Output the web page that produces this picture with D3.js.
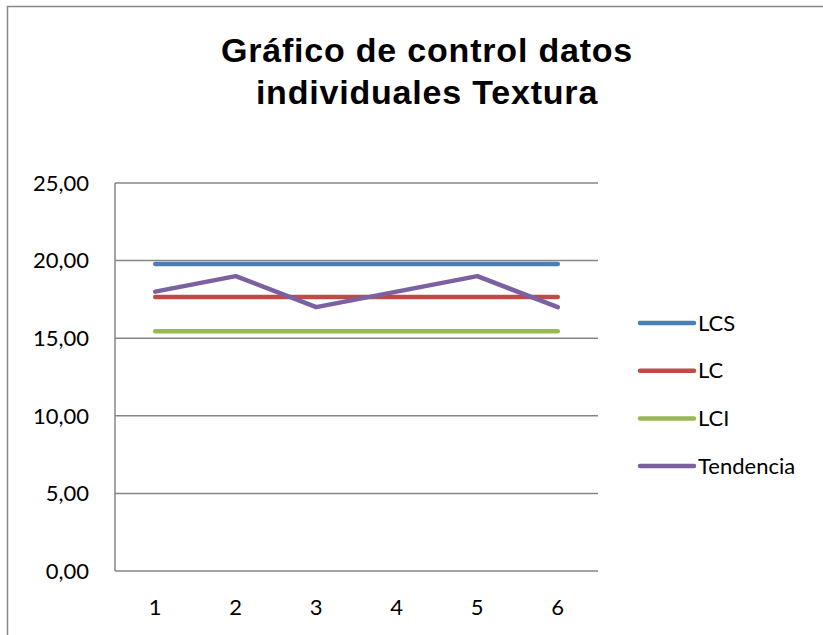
<!DOCTYPE html>
<html>
<head>
<meta charset="utf-8">
<script src="https://cdn.jsdelivr.net/npm/d3@7"></script>
<style>
  body { margin: 0; background: #fff; }
  svg { display: block; }
</style>
</head>
<body>
<svg id="chart"></svg>
<script>
// data
var categories = ["1", "2", "3", "4", "5", "6"];
var seriesNames = ["LCS", "LC", "LCI", "Tendencia"];
var lcs = [19.78, 19.78, 19.78, 19.78, 19.78, 19.78];
var lc = [17.65, 17.65, 17.65, 17.65, 17.65, 17.65];
var lci = [15.45, 15.45, 15.45, 15.45, 15.45, 15.45];
var tendencia = [18, 19, 17, 18, 19, 17];
var yTicks = [0, 5, 10, 15, 20, 25];
var colors = ["#4a7ebb", "#be4b48", "#98b954", "#7d60a0"];

var series = [lcs, lc, lci, tendencia];

var W = 823, H = 635;
var margin = {top: 183, right: 225, bottom: 64, left: 115},
  width = W - margin.left - margin.right,
  height = H - margin.top - margin.bottom;

var svg = d3.select("#chart")
  .attr("width", W)
  .attr("height", H);

// outer chart border
svg.append("rect")
  .attr("x", 7.5).attr("y", 6.5)
  .attr("width", 830).attr("height", 650)
  .style("fill", "none")
  .style("stroke", "#868686")
  .style("stroke-width", 1.5);

// title
var title = svg.append("text")
  .attr("text-anchor", "middle")
  .style("font-family", "'Liberation Sans', Arial, sans-serif")
  .style("font-weight", 700)
  .style("font-size", "34px")
  .style("letter-spacing", "0.8px")
  .style("fill", "#000");
title.append("tspan").attr("x", 427).attr("y", 62).text("Gráfico de control datos");
title.append("tspan").attr("x", 427).attr("y", 104).text("individuales Textura");

var g = svg.append("g")
  .attr("transform", "translate(" + margin.left + "," + margin.top + ")");

var x = d3.scaleBand().domain(categories).range([0, width]);
var y = d3.scaleLinear().domain([0, 25]).range([height, 0]);

// gridlines
g.selectAll("line.grid")
  .data(yTicks)
  .enter().append("line")
  .attr("class", "grid")
  .attr("x1", 0).attr("x2", width)
  .attr("y1", d => y(d)).attr("y2", d => y(d))
  .style("stroke", "#868686")
  .style("stroke-width", 1.5);

// y axis line
g.append("line")
  .attr("x1", 0).attr("x2", 0)
  .attr("y1", 0).attr("y2", height)
  .style("stroke", "#868686")
  .style("stroke-width", 1.5);

var tickFont = "Lato, 'Open Sans', sans-serif";

// y tick labels
g.selectAll("text.ylab")
  .data(yTicks)
  .enter().append("text")
  .attr("class", "ylab")
  .attr("x", -26)
  .attr("y", d => y(d))
  .attr("dy", "0.35em")
  .attr("text-anchor", "end")
  .style("font-family", tickFont)
  .style("font-size", "22px")
  .text(d => d.toFixed(2).replace(".", ","));

// x tick labels
g.selectAll("text.xlab")
  .data(categories)
  .enter().append("text")
  .attr("class", "xlab")
  .attr("x", d => x(d) + x.bandwidth() / 2)
  .attr("y", height + 44)
  .attr("text-anchor", "middle")
  .style("font-family", tickFont)
  .style("font-size", "22px")
  .text(d => d);

var line = d3.line()
  .x((d, i) => x(categories[i]) + x.bandwidth() / 2)
  .y(d => y(d));

g.selectAll("path.series")
  .data(series)
  .enter().append("path")
  .attr("class", "series")
  .attr("d", line)
  .style("fill", "none")
  .style("stroke", (d, i) => colors[i])
  .style("stroke-width", 4.5)
  .style("stroke-linecap", "round")
  .style("stroke-linejoin", "round");

// legend
var legend = svg.selectAll("g.legend")
  .data(seriesNames)
  .enter().append("g")
  .attr("class", "legend")
  .attr("transform", (d, i) => "translate(640," + (323 + i * 47.7) + ")");

legend.append("line")
  .attr("x1", 0).attr("x2", 54)
  .attr("y1", 0).attr("y2", 0)
  .style("stroke", (d, i) => colors[i])
  .style("stroke-width", 4.5)
  .style("stroke-linecap", "round");

legend.append("text")
  .attr("x", 58)
  .attr("y", 0)
  .attr("dy", "0.35em")
  .style("font-family", tickFont)
  .style("font-size", "22px")
  .text(d => d);
</script>
</body>
</html>
